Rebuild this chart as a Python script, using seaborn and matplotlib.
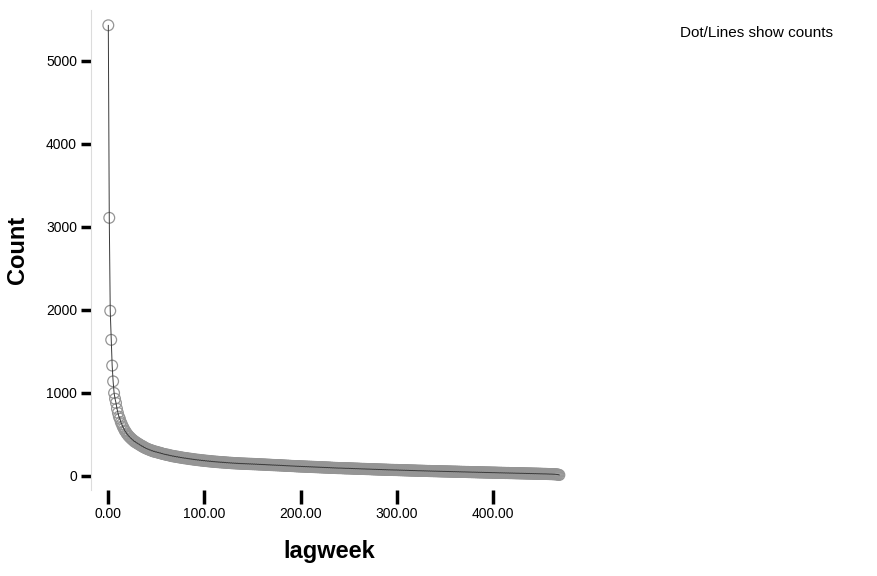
import numpy as np
import pandas as pd
import seaborn as sns
import matplotlib.pyplot as plt

# counts per lag week (week 0 .. 469)
counts = [
    5430, 3110, 1990, 1640, 1330, 1140, 1000, 930, 880, 810,
    760, 715, 690, 650, 625, 595, 575, 548, 535, 512,
    500, 482, 474, 458, 451, 436, 431, 415, 414, 400,
    398, 386, 384, 372, 369, 357, 358, 344, 343, 333,
    331, 323, 322, 313, 313, 303, 305, 295, 298, 289,
    291, 283, 285, 277, 279, 270, 272, 265, 264, 258,
    261, 253, 256, 248, 249, 243, 245, 237, 241, 233,
    236, 229, 233, 225, 228, 221, 224, 218, 220, 213,
    217, 211, 213, 207, 210, 203, 207, 200, 203, 197,
    200, 194, 197, 191, 195, 188, 192, 185, 189, 183,
    187, 180, 184, 178, 182, 175, 180, 173, 177, 171,
    175, 169, 173, 167, 171, 165, 169, 163, 168, 161,
    166, 160, 164, 158, 162, 157, 160, 155, 159, 153,
    157, 152, 156, 150, 155, 149, 153, 148, 152, 147,
    151, 146, 150, 145, 149, 144, 148, 143, 147, 142,
    146, 141, 145, 140, 144, 139, 142, 138, 141, 137,
    140, 136, 139, 135, 138, 133, 137, 132, 136, 131,
    134, 130, 133, 129, 132, 128, 131, 127, 130, 126,
    129, 125, 127, 124, 126, 122, 125, 121, 124, 120,
    122, 119, 121, 118, 120, 116, 119, 115, 118, 114,
    117, 113, 116, 112, 115, 111, 114, 110, 113, 109,
    112, 108, 111, 107, 110, 106, 109, 105, 108, 104,
    107, 103, 106, 102, 105, 101, 104, 100, 103, 99,
    102, 98, 100, 97, 99, 96, 98, 95, 97, 94,
    96, 94, 96, 93, 95, 92, 94, 91, 93, 91,
    93, 90, 92, 89, 91, 88, 90, 87, 89, 87,
    88, 86, 87, 85, 86, 84, 86, 83, 85, 82,
    84, 82, 83, 81, 82, 80, 81, 79, 81, 78,
    80, 77, 79, 77, 78, 76, 77, 75, 77, 74,
    76, 73, 75, 73, 74, 72, 74, 71, 73, 71,
    73, 70, 72, 69, 71, 69, 70, 68, 70, 67,
    69, 67, 68, 66, 67, 65, 67, 64, 66, 64,
    65, 63, 64, 62, 64, 62, 63, 61, 63, 60,
    62, 60, 61, 59, 61, 58, 60, 58, 59, 57,
    59, 57, 58, 56, 58, 55, 57, 55, 56, 54,
    56, 54, 55, 53, 55, 52, 54, 52, 53, 51,
    53, 51, 52, 50, 52, 49, 51, 49, 50, 48,
    50, 48, 49, 47, 49, 46, 48, 46, 47, 45,
    47, 45, 46, 44, 46, 43, 45, 43, 45, 42,
    44, 42, 43, 41, 43, 41, 42, 40, 42, 39,
    41, 39, 41, 38, 40, 38, 39, 37, 39, 37,
    38, 36, 38, 35, 37, 35, 37, 34, 36, 34,
    36, 33, 35, 33, 34, 32, 34, 32, 33, 31,
    33, 31, 32, 30, 32, 29, 31, 29, 31, 28,
    30, 28, 29, 27, 29, 27, 28, 26, 28, 25,
    27, 25, 26, 24, 26, 24, 25, 23, 24, 22,
    23, 22, 22, 21, 21, 20, 19, 18, 16, 12,
]
weeks = list(range(len(counts)))

x_ticks = [0, 100, 200, 300, 400]
x_tick_labels = ["0.00", "100.00", "200.00", "300.00", "400.00"]
y_ticks = [0, 1000, 2000, 3000, 4000, 5000]

df = pd.DataFrame({"lagweek": weeks, "Count": counts})

sns.set_style("white")
plt.rcParams["font.family"] = ["Liberation Sans", "DejaVu Sans"]
plt.rcParams["text.color"] = "black"
plt.rcParams["axes.labelcolor"] = "black"
plt.rcParams["xtick.color"] = "black"
plt.rcParams["ytick.color"] = "black"

fig = plt.figure(figsize=(8.77, 5.76), dpi=100)
ax = fig.add_axes([91 / 877, 1 - 490 / 576, (568 - 91) / 877, (490 - 10) / 576])

# open circles first, then the line drawn on top of them
sns.scatterplot(data=df, x="lagweek", y="Count", ax=ax, s=60, marker="o",
                facecolor="none", edgecolor="#959595", linewidth=0.9, zorder=2)
sns.lineplot(data=df, x="lagweek", y="Count", ax=ax, color="#3a3a3a", lw=0.7,
             zorder=3)

ax.set_xlim(-18, 478)
ax.set_ylim(-169, 5614)

for s in ["top", "right", "bottom"]:
    ax.spines[s].set_visible(False)
ax.spines["left"].set_color("#dcdcdc")
ax.spines["left"].set_linewidth(0.8)

ax.set_xticks(x_ticks)
ax.set_xticklabels(x_tick_labels)
ax.set_yticks(y_ticks)
ax.tick_params(axis="y", direction="out", length=7, width=2.5,
               labelsize=10, pad=3, left=True)
ax.tick_params(axis="x", direction="out", length=10, width=2.5,
               labelsize=10, pad=2, bottom=True)

ax.set_xlabel("lagweek", fontsize=17, fontweight="bold", labelpad=14)
ax.set_ylabel("Count", fontsize=17, fontweight="bold", labelpad=12)

fig.text(680 / 877, 1 - 33 / 576, "Dot/Lines show counts", fontsize=11,
         va="center", ha="left")

fig.savefig("out.png", dpi=100)
